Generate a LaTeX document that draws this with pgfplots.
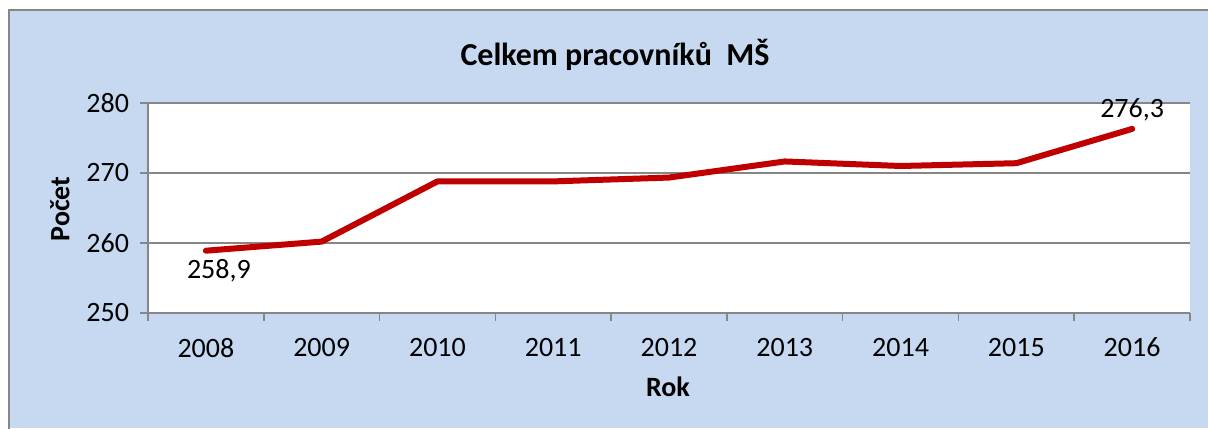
\documentclass[border=0pt]{standalone}
\usepackage{pgfplots}
\pgfplotsset{compat=1.18}
\usepackage{fontspec}
\setmainfont{Carlito}
\definecolor{bgblue}{HTML}{C6D9F1}
\definecolor{linered}{HTML}{C00000}
\definecolor{axgray}{HTML}{868686}
\begin{document}
\begin{tikzpicture}[x=1pt,y=1pt]
\path[use as bounding box] (0,0) rectangle (604,214);
\fill[bgblue] (4.5,0) rectangle (604,209);
\draw[axgray,line width=0.8pt] (4.5,-1) -- (4.5,209) -- (605,209);
\begin{axis}[
  at={(74pt,57.5pt)}, anchor=south west,
  scale only axis, width=521pt, height=105pt,
  xmin=-0.5, xmax=8.5, ymin=250, ymax=280,
  axis background/.style={fill=white},
  axis line style={axgray, line width=0.8pt},
  axis x line*=bottom, axis y line*=left,
  xtick={0,...,8},
  xticklabels={2008,2009,2010,2011,2012,2013,2014,2015,2016},
  minor xtick={-0.5,0.5,...,8.5},
  ytick={250,260,270,280},
  tick align=outside,
  major x tick style={draw=none},
  minor tick length=4pt, major tick length=4pt,
  tick style={axgray, line width=0.8pt},
  ymajorgrids, grid style={axgray, line width=0.8pt},
  ticklabel style={font=\fontsize{14}{15}\selectfont},
  /pgf/number format/assume math mode=true,
  yticklabel style={xshift=-2pt},
  xticklabel style={yshift=-5pt},
  clip=false,
]
\addplot[linered, line width=3pt, line cap=round, line join=round] coordinates {
(0,258.9) (1,260.2) (2,268.8) (3,268.8) (4,269.35) (5,271.65) (6,271.0) (7,271.4) (8,276.3)};
\node[font=\fontsize{14}{15}\selectfont, anchor=north, xshift=6.5pt] at (axis cs:0,258.6) {258,9};
\node[font=\fontsize{14}{15}\selectfont, anchor=south] at (axis cs:8,276.4) {276,3};
\end{axis}
\node[font=\fontsize{16}{18}\selectfont\bfseries] at (307.5,186.5) {Celkem pracovníků\ \ MŠ};
\node[font=\fontsize{14}{15}\selectfont\bfseries, rotate=90] at (30,109.5) {Počet};
\node[font=\fontsize{14}{15}\selectfont\bfseries] at (334,20.5) {Rok};
\end{tikzpicture}
\end{document}
